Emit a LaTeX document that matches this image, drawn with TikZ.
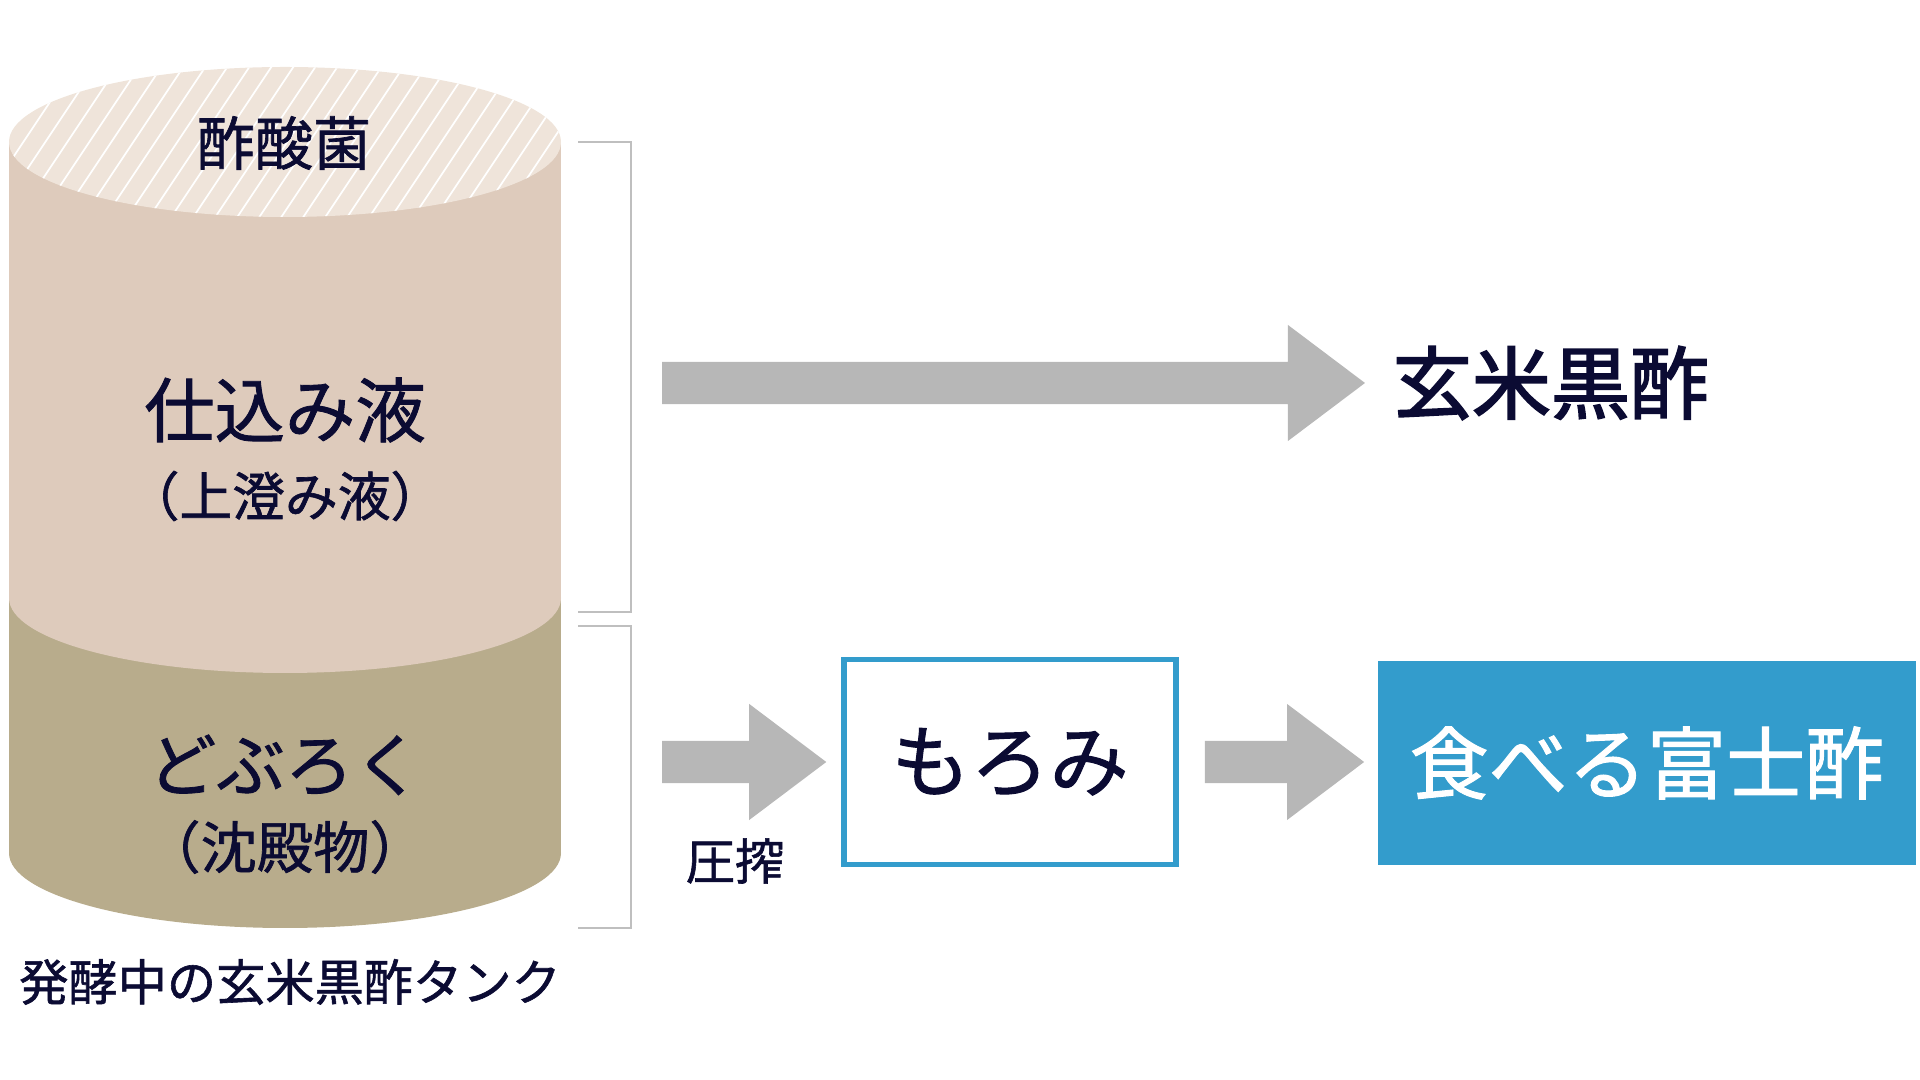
\documentclass[tikz,border=0pt]{standalone}
\usepackage{fontspec}
\setmainfont{Noto Sans CJK JP}
\newfontfamily\jpmed[FakeBold=1.2]{Noto Sans CJK JP}
\newfontfamily\jpheavy[FakeBold=2.2]{Noto Sans CJK JP}
\usepackage{xcolor}
\usetikzlibrary{calc}
\definecolor{navy}{HTML}{0B0B33}
\definecolor{topfoam}{HTML}{EFE4DA}
\definecolor{liquid}{HTML}{DECBBC}
\definecolor{sediment}{HTML}{B8AC8C}
\definecolor{arrowgray}{HTML}{B7B7B7}
\definecolor{fujiblue}{HTML}{339CCC}
\definecolor{bracketgray}{HTML}{BFBFBF}
\newcommand{\fatarrow}[2]{\fill[arrowgray] let \p1=(#1), \p2=(#2) in (\x1,\y1-0.21cm) -- (\x2-0.77cm,\y1-0.21cm) -- (\x2-0.77cm,\y1-0.58cm) -- (\x2,\y1) -- (\x2-0.77cm,\y1+0.58cm) -- (\x2-0.77cm,\y1+0.21cm) -- (\x1,\y1+0.21cm) -- cycle;}

\begin{document}
\begin{tikzpicture}[x=0.01cm, y=-0.01cm, text=navy, inner sep=0pt,
    bracket/.style={bracketgray, line width=0.6pt},
    tanklabel/.style={font=\jpmed\fontsize{#1}{#1}\selectfont}]
        \useasboundingbox (0,0) rectangle (1920,1080);
        \fill[sediment] (285,853) ellipse [x radius=276, y radius=75];
        \fill[sediment] (9,598) rectangle (561,853);
        \fill[liquid] (285,598) ellipse [x radius=276, y radius=75];
        \fill[liquid] (9,142) rectangle (561,598);
        \fill[topfoam] (285,142) ellipse [x radius=276, y radius=75];
        \begin{scope}
            \clip (285,142) ellipse [x radius=276, y radius=75];
            \foreach \i in {-120,-98,...,600} \draw[white, line width=0.5pt] (\i,225) -- ++(110,-165);
        \end{scope}
        \node[tanklabel=16.5pt] (acetic) at (284,143) {酢酸菌};
        \node[tanklabel=20pt] (moto) at (285,410) {仕込み液};
        \node[tanklabel=15pt] (clear) at (285,496) {（上澄み液）};
        \node[tanklabel=19.5pt] (doburoku) at (285,765) {どぶろく};
        \node[tanklabel=16pt] (sediment) at (285,847) {（沈殿物）};
        \node[tanklabel=14pt] (tank) at (290,982) {発酵中の玄米黒酢タンク};
        \draw[bracket] (578,142) -| (631,612) -- (578,612);
        \draw[bracket] (578,626) -| (631,928) -- (578,928);
        \coordinate (upperbr) at (662,383);
        \coordinate (lowerbr) at (662,762);
        \node[font=\jpheavy\fontsize{22.5pt}{22.5pt}\selectfont, anchor=west] (vinegar) at (1392,383) {玄米黒酢};
        \node[draw=fujiblue, line width=1.5pt, minimum width=3.32cm, minimum height=2.05cm, font=\jpmed\fontsize{22.5pt}{22.5pt}\selectfont] (moromi) at (1010,762) {もろみ};
        \node[fill=fujiblue, text=white, minimum width=5.38cm, minimum height=2.03cm, font=\jpmed\fontsize{22.5pt}{22.5pt}\selectfont] (product) at (1647,763) {食べる富士酢};
        \node[tanklabel=14pt] (press) at (735,861) {圧搾};
        \fatarrow{upperbr}{[xshift=-0.27cm]vinegar.west}
        \fatarrow{lowerbr}{[xshift=-0.15cm]moromi.west}
        \fatarrow{[xshift=0.26cm]moromi.east}{[xshift=-0.13cm]product.west}
    \end{tikzpicture}
\end{document}
